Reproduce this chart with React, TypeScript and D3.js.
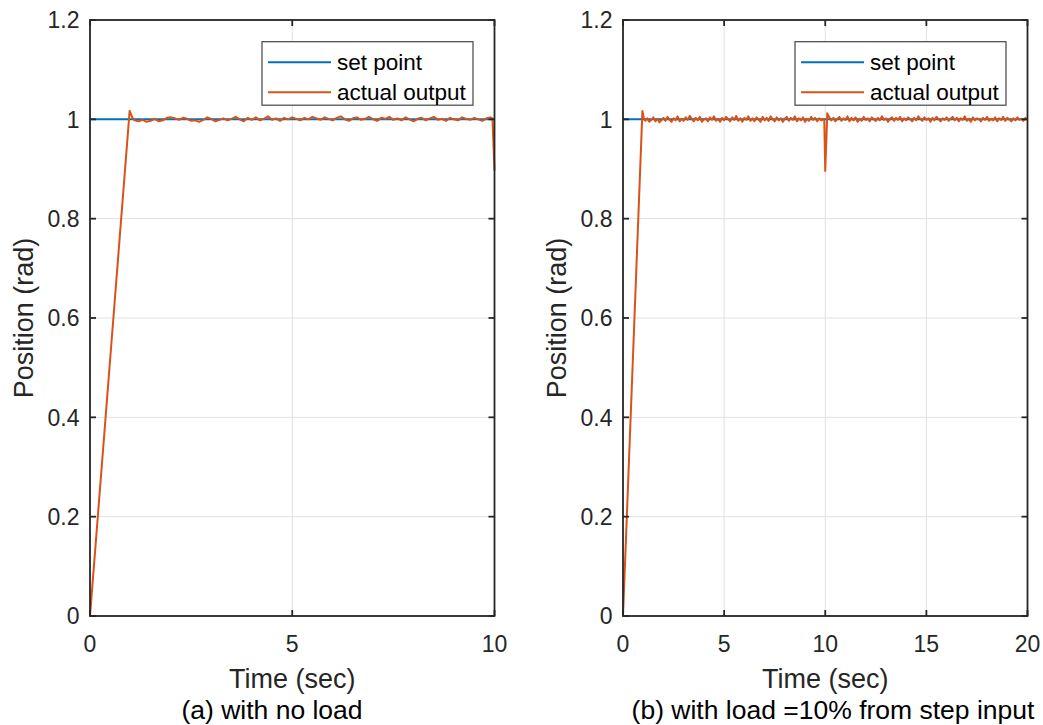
import React from "react";
import * as d3 from "d3";

// ---------- DATA ----------
const yTicks = [0, 0.2, 0.4, 0.6, 0.8, 1, 1.2];
const xTicksA = [0, 5, 10];
const xTicksB = [0, 5, 10, 15, 20];
const legendLabels = ["set point", "actual output"];
const captions = ["(a) with no load", "(b) with load =10% from step input"];
const xLabel = "Time (sec)";
const yLabel = "Position (rad)";

// set point (step of 1 applied at t = 0)
const setPointA = [
  { t: 0, v: 1 },
  { t: 10, v: 1 },
];
const setPointB = [
  { t: 0, v: 1 },
  { t: 20, v: 1 },
];

// actual output, panel (a): transient, then steady state sampled every 0.1 s from t = 1.1 s
const transientA = [
  { t: 0, v: 0 },
  { t: 0.98, v: 1.017 },
  { t: 1.05, v: 1.003 },
];
const steadyStartA = 1.1;
const sampleStep = 0.1;
const steadyA = [
  0.998, 0.996, 0.999, 0.995, 0.997, 1.001, 0.996, 0.998, 1.003, 1.004,
  1.002, 0.999, 1.003, 1.001, 0.997, 0.998, 0.995, 0.999, 1.004, 1.001,
  0.996, 0.999, 1.002, 0.998, 1.001, 1.005, 1.0, 0.996, 1.003, 0.999,
  1.004, 0.998, 1.001, 1.006, 0.999, 1.002, 0.997, 1.003, 1.0, 1.004,
  1.001, 0.998, 1.003, 1.0, 1.005, 1.002, 0.999, 1.004, 1.001, 0.998,
  1.003, 1.006, 1.0, 0.997, 1.002, 1.004, 0.999, 1.001, 1.005, 1.0,
  0.997, 1.003, 1.001, 1.005, 0.999, 1.002, 0.998, 1.004, 1.0, 0.996,
  1.001, 1.003, 0.998, 1.002, 1.005, 0.999, 1.001, 0.997, 1.003, 1.0,
  0.998, 1.004, 1.001, 0.999, 1.003, 1.0, 0.997, 1.002, 1.004,
];
const endA = [
  { t: 9.95, v: 1.002 },
  { t: 10, v: 0.897 },
];

// actual output, panel (b)
const transientB = [
  { t: 0, v: 0 },
  { t: 0.96, v: 1.017 },
  { t: 1.03, v: 1.002 },
];
const steadyStartB1 = 1.1;
const steadyB1 = [
  0.997, 1.002, 0.995, 0.999, 1.004, 0.996, 1.001, 0.994, 0.998, 1.003,
  0.997, 1.005, 0.999, 0.995, 1.002, 0.998, 1.006, 0.996, 1.001, 0.997,
  1.004, 0.999, 1.007, 1.001, 0.996, 1.003, 0.998, 1.005, 0.995, 1.0,
  1.002, 0.996, 1.004, 0.999, 1.006, 0.997, 1.001, 0.995, 1.003, 0.998,
  1.005, 1.0, 0.996, 1.004, 0.999, 1.007, 0.997, 1.002, 0.995, 1.003,
  0.999, 1.006, 0.997, 1.002, 0.996, 1.004, 1.0, 0.995, 1.005, 0.998,
  1.003, 0.997, 1.006, 1.0, 0.996, 1.004, 0.998, 1.002, 0.995, 1.001,
  1.005, 0.997, 1.003, 0.999, 1.006, 0.996, 1.002, 0.998, 1.004, 0.995,
  1.001, 0.997, 1.005, 0.999, 1.003, 0.996, 1.002, 0.998, 1.001,
];
const loadDisturbanceB = [
  { t: 9.95, v: 1.0 },
  { t: 10.0, v: 0.896 },
  { t: 10.1, v: 1.012 },
  { t: 10.2, v: 1.004 },
];
const steadyStartB2 = 10.3;
const steadyB2 = [
  0.998, 1.003, 0.996, 1.001, 1.005, 0.997, 1.002, 0.999, 1.006, 0.996,
  1.003, 0.998, 1.004, 0.995, 1.001, 0.997, 1.005, 0.999, 1.002, 0.996,
  1.004, 1.0, 0.997, 1.003, 0.998, 1.006, 0.999, 1.002, 0.995, 1.001,
  1.004, 0.997, 1.003, 0.999, 1.005, 0.996, 1.002, 0.998, 1.004, 1.0,
  0.996, 1.003, 0.998, 1.006, 1.001, 0.997, 1.004, 0.999, 1.002, 0.995,
  1.003, 0.998, 1.005, 1.0, 0.996, 1.002, 0.999, 1.004, 0.997, 1.001,
  1.005, 0.998, 1.003, 0.996, 1.002, 0.999, 1.006, 0.997, 1.001, 0.995,
  1.004, 0.998, 1.002, 1.0, 0.996, 1.003, 0.999, 1.005, 0.997, 1.001,
  0.998, 1.004, 0.996, 1.002, 0.999, 1.005, 0.997, 1.003, 1.0, 0.996,
  1.002, 0.998, 1.004, 0.999, 1.001, 0.997, 1.003, 0.999,
];

type Pt = { t: number; v: number };
const sampled = (start: number, vals: number[]): Pt[] =>
  vals.map((v, i) => ({ t: +(start + i * sampleStep).toFixed(3), v }));

const outputA: Pt[] = [...transientA, ...sampled(steadyStartA, steadyA), ...endA];
const outputB: Pt[] = [
  ...transientB,
  ...sampled(steadyStartB1, steadyB1),
  ...loadDisturbanceB,
  ...sampled(steadyStartB2, steadyB2),
];

// ---------- STYLE ----------
const BLUE = "#0072BD";
const ORANGE = "#D95319";
const AXIS = "#262626";
const GRID = "#e1e1e1";
const FONT = "'Liberation Sans', Arial, Helvetica, sans-serif";

type PanelProps = {
  left: number;
  xMax: number;
  xTicks: number[];
  setPoint: Pt[];
  output: Pt[];
  caption: string;
  captionX: number;
};

const TOP = 20;
const BOTTOM = 616;
const WIDTH = 404.5;
const TICK = 6;

function Panel({ left, xMax, xTicks, setPoint, output, caption, captionX }: PanelProps) {
  const right = left + WIDTH;
  const x = d3.scaleLinear().domain([0, xMax]).range([left, right]);
  const y = d3.scaleLinear().domain([0, 1.2]).range([BOTTOM, TOP]);
  const line = d3
    .line<Pt>()
    .x((d) => x(d.t))
    .y((d) => y(d.v));

  const legW = 211;
  const legH = 63.5;
  const legX = right - 21.5 - legW;
  const legY = TOP + 21.7;

  return (
    <g>
      {/* grid */}
      {xTicks.map((t) => (
        <line key={"gx" + t} x1={x(t)} x2={x(t)} y1={TOP} y2={BOTTOM} stroke={GRID} strokeWidth={1} />
      ))}
      {yTicks.map((t) => (
        <line key={"gy" + t} x1={left} x2={right} y1={y(t)} y2={y(t)} stroke={GRID} strokeWidth={1} />
      ))}
      {/* data */}
      <path d={line(setPoint) || ""} fill="none" stroke={BLUE} strokeWidth={2} />
      <path d={line(output) || ""} fill="none" stroke={ORANGE} strokeWidth={2} strokeLinejoin="round" />
      {/* axes box */}
      <rect x={left} y={TOP} width={WIDTH} height={BOTTOM - TOP} fill="none" stroke={AXIS} strokeWidth={1.8} />
      {xTicks.map((t) => (
        <g key={"tx" + t}>
          <line x1={x(t)} x2={x(t)} y1={BOTTOM} y2={BOTTOM - TICK} stroke={AXIS} strokeWidth={1.8} />
          <line x1={x(t)} x2={x(t)} y1={TOP} y2={TOP + TICK} stroke={AXIS} strokeWidth={1.8} />
          <text x={x(t)} y={652} textAnchor="middle" fontSize={23} fill={AXIS} fontFamily={FONT}>
            {t}
          </text>
        </g>
      ))}
      {yTicks.map((t) => (
        <g key={"ty" + t}>
          <line x1={left} x2={left + TICK} y1={y(t)} y2={y(t)} stroke={AXIS} strokeWidth={1.8} />
          <line x1={right} x2={right - TICK} y1={y(t)} y2={y(t)} stroke={AXIS} strokeWidth={1.8} />
          <text x={left - 10.5} y={y(t)} dy="0.36em" textAnchor="end" fontSize={23} fill={AXIS} fontFamily={FONT}>
            {t}
          </text>
        </g>
      ))}
      {/* labels */}
      <text x={(left + right) / 2} y={688} textAnchor="middle" fontSize={27} fill={AXIS} fontFamily={FONT}>
        {xLabel}
      </text>
      <text
        transform={`translate(${left - 57},${(TOP + BOTTOM) / 2}) rotate(-90)`}
        textAnchor="middle"
        fontSize={27}
        fill={AXIS}
        fontFamily={FONT}
      >
        {yLabel}
      </text>
      <text x={captionX} y={719} textAnchor="middle" fontSize={26.5} fill="#000" fontFamily={FONT}>
        {caption}
      </text>
      {/* legend */}
      <rect x={legX} y={legY} width={legW} height={legH} fill="#fff" stroke="#444" strokeWidth={1.2} />
      {legendLabels.map((lab, i) => {
        const ry = legY + 20.5 + i * 30;
        return (
          <g key={lab}>
            <line x1={legX + 6} x2={legX + 69} y1={ry} y2={ry} stroke={i === 0 ? BLUE : ORANGE} strokeWidth={2} />
            <text x={legX + 75} y={ry} dy="0.36em" fontSize={22.5} fill="#000" fontFamily={FONT}>
              {lab}
            </text>
          </g>
        );
      })}
    </g>
  );
}

export default function App() {
  return (
    <svg
      width={1043}
      height={725}
      style={{ position: "absolute", left: 0, top: 0, background: "#fff" }}
    >
      <rect x={0} y={0} width={1043} height={725} fill="#fff" />
      <Panel
        left={90}
        xMax={10}
        xTicks={xTicksA}
        setPoint={setPointA}
        output={outputA}
        caption={captions[0]}
        captionX={272}
      />
      <Panel
        left={623}
        xMax={20}
        xTicks={xTicksB}
        setPoint={setPointB}
        output={outputB}
        caption={captions[1]}
        captionX={833}
      />
    </svg>
  );
}
